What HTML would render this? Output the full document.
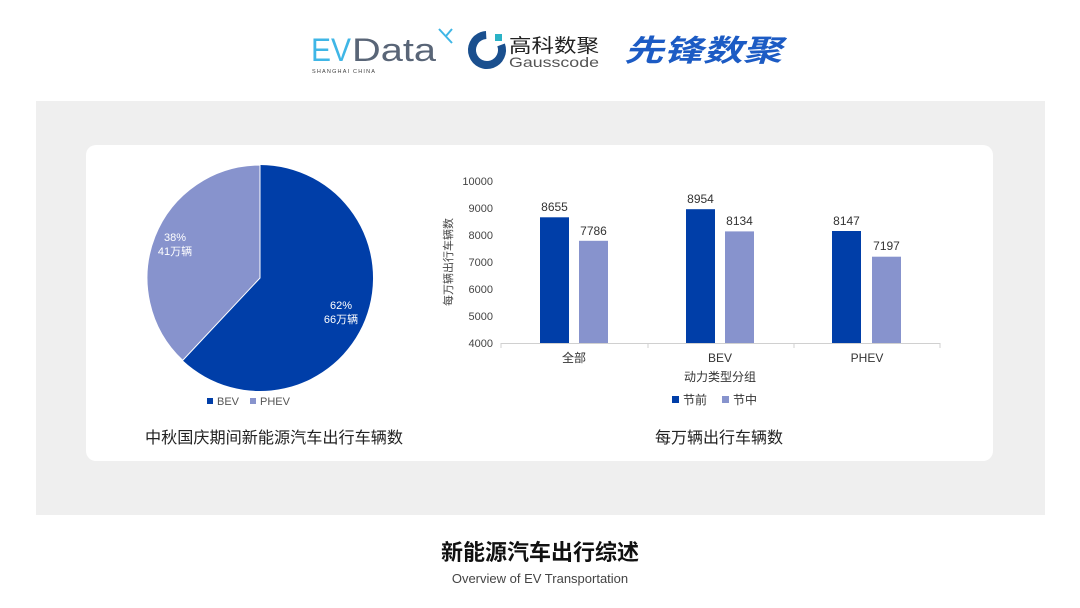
<!DOCTYPE html>
<html><head><meta charset="utf-8"><style>
html,body{margin:0;padding:0;background:#fff;}
svg{display:block;}
text{font-family:"Liberation Sans","Noto Sans CJK SC",sans-serif;}
</style></head><body>
<svg width="1080" height="608" viewBox="0 0 1080 608" xmlns="http://www.w3.org/2000/svg">
<rect width="1080" height="608" fill="#fff"/>
<!-- logos -->
<text x="311" y="61" font-size="32" fill="#3fb6e6" textLength="40" lengthAdjust="spacingAndGlyphs">EV</text>
<text x="352" y="61" font-size="32" fill="#596577" textLength="84" lengthAdjust="spacingAndGlyphs">Data</text>
<path d="M439 29 L452 43 M452 29 L446 36" stroke="#3fb6e6" stroke-width="2" fill="none"/>
<text x="312" y="73" font-size="5.5" fill="#444" letter-spacing="1.2">SHANGHAI CHINA</text>
<circle cx="487" cy="50" r="15" fill="none" stroke="#1a4f8e" stroke-width="8" stroke-dasharray="75 20" transform="rotate(-20 487 50)"/>
<rect x="495" y="34" width="7" height="7" fill="#2ab2c6"/>
<text x="509" y="52" font-size="19" fill="#222" textLength="90" lengthAdjust="spacingAndGlyphs">高科数聚</text>
<text x="509" y="67" font-size="14" fill="#555" textLength="90" lengthAdjust="spacingAndGlyphs">Gausscode</text>
<text x="624" y="61" font-size="30" fill="#1c5bc4" font-weight="bold" font-style="italic" textLength="158" lengthAdjust="spacingAndGlyphs">先锋数聚</text>
<!-- panel -->
<rect x="36" y="101" width="1009" height="414" fill="#efefef"/>
<rect x="86" y="145" width="907" height="316" rx="10" fill="#fff"/>
<!-- pie -->
<path d="M260 278 L260 165 A113 113 0 1 1 182.7 360.4 Z" fill="#003ea8"/>
<path d="M260 278 L182.7 360.4 A113 113 0 0 1 260 165 Z" fill="#8793cd" stroke="#fff" stroke-width="1"/>
<text x="175" y="241" font-size="11" fill="#fff" text-anchor="middle">38%</text>
<text x="175" y="255" font-size="11" fill="#fff" text-anchor="middle">41万辆</text>
<text x="341" y="309" font-size="11" fill="#fff" text-anchor="middle">62%</text>
<text x="341" y="323" font-size="11" fill="#fff" text-anchor="middle">66万辆</text>
<rect x="207" y="398" width="6" height="6" fill="#003ea8"/>
<text x="217" y="405" font-size="11" fill="#555">BEV</text>
<rect x="250" y="398" width="6" height="6" fill="#8793cd"/>
<text x="260" y="405" font-size="11" fill="#555">PHEV</text>
<text x="145" y="443" font-size="16" fill="#222" textLength="258" lengthAdjust="spacingAndGlyphs">中秋国庆期间新能源汽车出行车辆数</text>
<!-- bar chart -->
<g font-size="11" fill="#444" text-anchor="end">
<text x="493" y="185">10000</text>
<text x="493" y="212">9000</text>
<text x="493" y="239">8000</text>
<text x="493" y="266">7000</text>
<text x="493" y="293">6000</text>
<text x="493" y="320">5000</text>
<text x="493" y="347">4000</text>
</g>
<text transform="translate(452 262) rotate(-90)" font-size="11" fill="#444" text-anchor="middle">每万辆出行车辆数</text>
<line x1="501" y1="343.5" x2="940" y2="343.5" stroke="#d0d0d0"/>
<line x1="648" y1="343" x2="648" y2="348" stroke="#d0d0d0"/>
<line x1="794" y1="343" x2="794" y2="348" stroke="#d0d0d0"/>
<line x1="501" y1="343" x2="501" y2="348" stroke="#d0d0d0"/>
<line x1="940" y1="343" x2="940" y2="348" stroke="#d0d0d0"/>
<rect x="540" y="217.3" width="29" height="125.7" fill="#003ea8"/>
<rect x="579" y="240.8" width="29" height="102.2" fill="#8793cd"/>
<rect x="686" y="209.2" width="29" height="133.8" fill="#003ea8"/>
<rect x="725" y="231.4" width="29" height="111.6" fill="#8793cd"/>
<rect x="832" y="231" width="29" height="112" fill="#003ea8"/>
<rect x="872" y="256.7" width="29" height="86.3" fill="#8793cd"/>
<g font-size="12" fill="#333" text-anchor="middle">
<text x="554.5" y="211">8655</text>
<text x="593.5" y="235">7786</text>
<text x="700.5" y="203">8954</text>
<text x="739.5" y="225">8134</text>
<text x="846.5" y="225">8147</text>
<text x="886.5" y="250">7197</text>
<text x="574" y="362">全部</text>
<text x="720" y="362">BEV</text>
<text x="867" y="362">PHEV</text>
<text x="720" y="381">动力类型分组</text>
</g>
<rect x="672" y="396" width="7" height="7" fill="#003ea8"/>
<text x="683" y="404" font-size="12" fill="#333">节前</text>
<rect x="722" y="396" width="7" height="7" fill="#8793cd"/>
<text x="733" y="404" font-size="12" fill="#333">节中</text>
<text x="719" y="443" font-size="16" fill="#222" text-anchor="middle">每万辆出行车辆数</text>
<!-- title -->
<text x="540" y="560" font-size="22" font-weight="bold" fill="#111" text-anchor="middle">新能源汽车出行综述</text>
<text x="540" y="583" font-size="13" fill="#444" text-anchor="middle">Overview of EV Transportation</text>
</svg>
</body></html>
